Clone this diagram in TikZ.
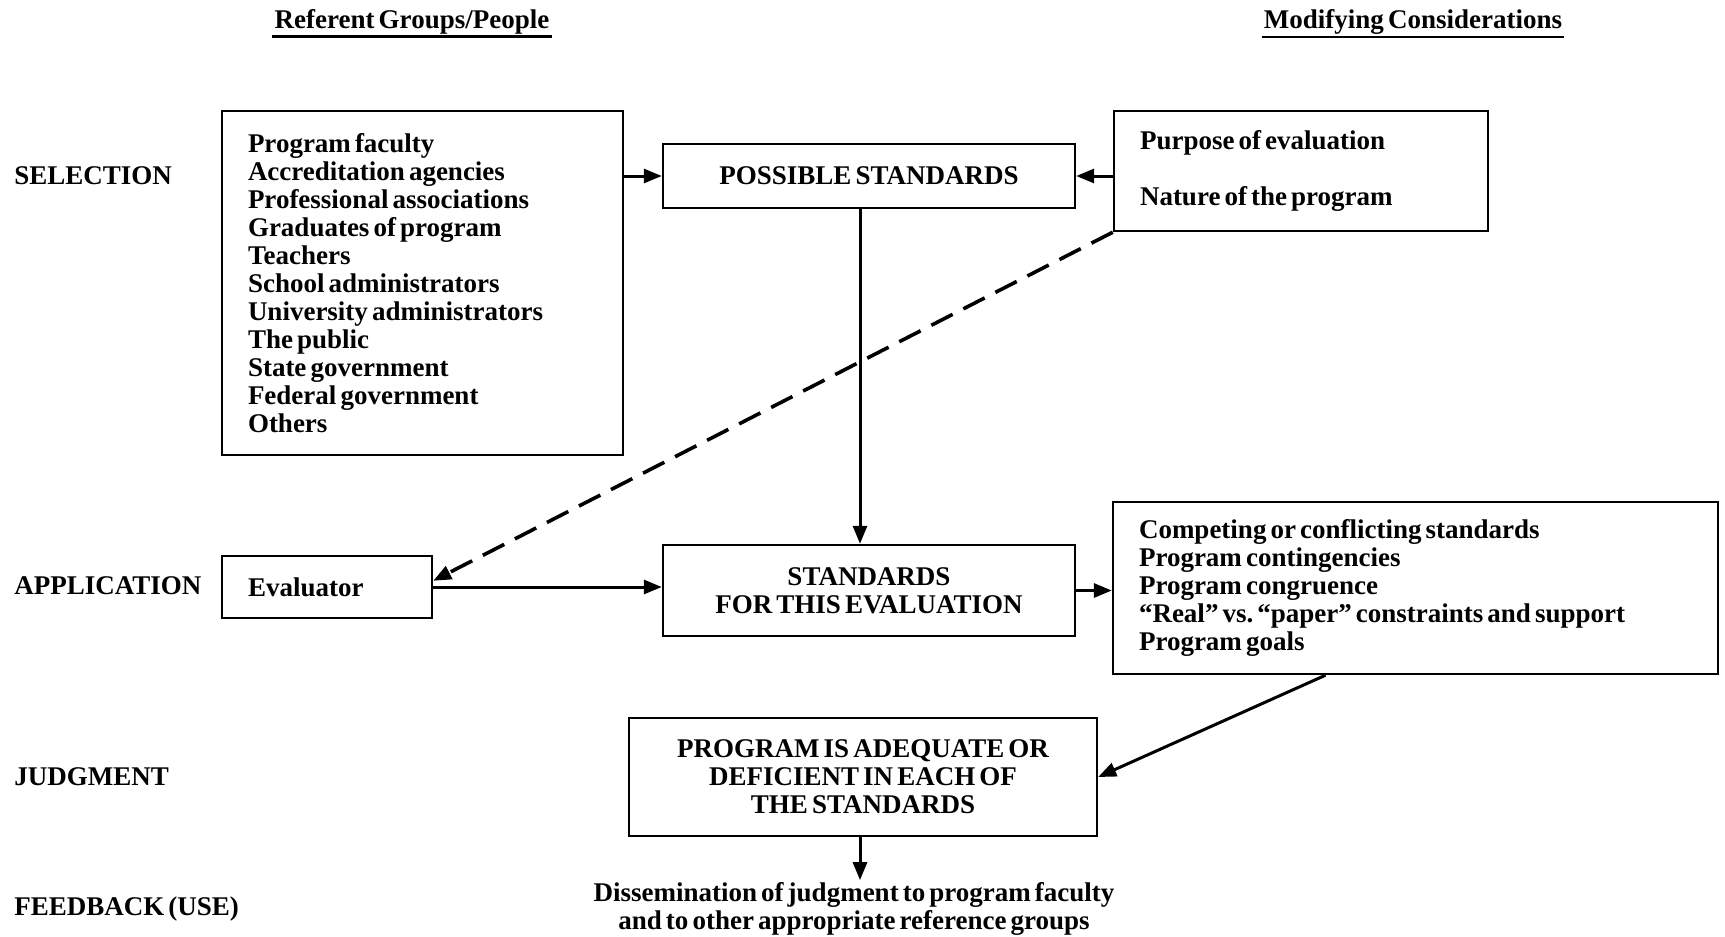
\documentclass[tikz,border=0pt]{standalone}
\usepackage{fontspec}
\setmainfont{Liberation Serif}[WordSpace=0.6]
\usetikzlibrary{arrows.meta}
\begin{document}
\begin{tikzpicture}[x=0.5pt,y=-0.5pt,
  every node/.style={font=\bfseries\fontsize{13.5}{14}\selectfont},
  box/.style={draw,line width=1.2pt,inner ysep=0pt},
  listbox/.style={box,align=left,inner xsep=13pt,
    execute at begin node={\spaceskip=\fontdimen2\font\relax}},
  stage/.style={anchor=west,inner sep=0pt},
  arr/.style={line width=1.5pt,-{Triangle[length=9pt,width=7pt]}}]
\useasboundingbox (0,0) rectangle (1725,937);

% column heads
\node[inner sep=1pt] (refhead) at (412,22) {Referent Groups/People};
\node[inner sep=1pt] (modhead) at (1413,22) {Modifying Considerations};
\draw[line width=1.3pt] (refhead.south west) -- (refhead.south east);
\draw[line width=1.3pt] (modhead.south west) -- (modhead.south east);

% stages
\node[stage] (selection) at (14,176) {SELECTION};
\node[stage] (application) at (14,586) {APPLICATION};
\node[stage] (judgment) at (14,777) {JUDGMENT};
\node[stage] (feedback) at (14,909) {FEEDBACK (USE)};

% boxes
\node[listbox,text width=174.5pt,minimum height=172pt] (referents) at (422.5,283) {Program faculty\\ Accreditation agencies\\ Professional associations\\ Graduates of program\\ Teachers\\ School administrators\\ University administrators\\ The public\\ State government\\ Federal government\\ Others};
\node[box,minimum width=206pt,minimum height=32pt] (possible) at (869,176) {POSSIBLE STANDARDS};
\node[listbox,text width=161pt,minimum height=60pt] (purpose) at (1301,171) {Purpose of evaluation\\[14pt] Nature of the program};
\node[listbox,text width=79pt,minimum height=31pt] (evaluator) at (327,587) {Evaluator};
\node[box,align=center,minimum width=206pt,minimum height=45.5pt] (standards) at (869,590.5) {STANDARDS\\ FOR THIS EVALUATION};
\node[listbox,text width=276.5pt,minimum height=86pt] (competing) at (1415.5,588) {Competing or conflicting standards\\ Program contingencies\\ Program congruence\\ ``Real'' vs.\ ``paper'' constraints and support\\ Program goals};
\node[box,align=center,minimum width=234pt,minimum height=59pt] (judge) at (863,777) {PROGRAM IS ADEQUATE OR\\ DEFICIENT IN EACH OF\\ THE STANDARDS};
\node[align=center,inner sep=1pt] (dissem) at (854,909) {Dissemination of judgment to program faculty\\ and to other appropriate reference groups};

% connectors
\draw[arr] (possible.west -| referents.east) -- (possible.west);
\draw[arr] (possible.east -| purpose.west) -- (possible.east);
\draw[arr] ([xshift=-4.5pt]possible.south) -- ([xshift=-4.5pt]standards.north);
\draw[arr,line width=1.8pt,dash pattern=on 12pt off 6pt] (purpose.south west) -- ([yshift=-13pt]evaluator.north east);
\draw[arr] (evaluator.east) -- (evaluator.east -| standards.west);
\draw[arr] (standards.east) -- (standards.east -| competing.west);
\draw[arr] ([xshift=-45pt]competing.south) -- (judge.east);
\draw[arr] ([xshift=-1.5pt]judge.south) -- ([xshift=-1.5pt]judge.south |- dissem.north);
\end{tikzpicture}
\end{document}
